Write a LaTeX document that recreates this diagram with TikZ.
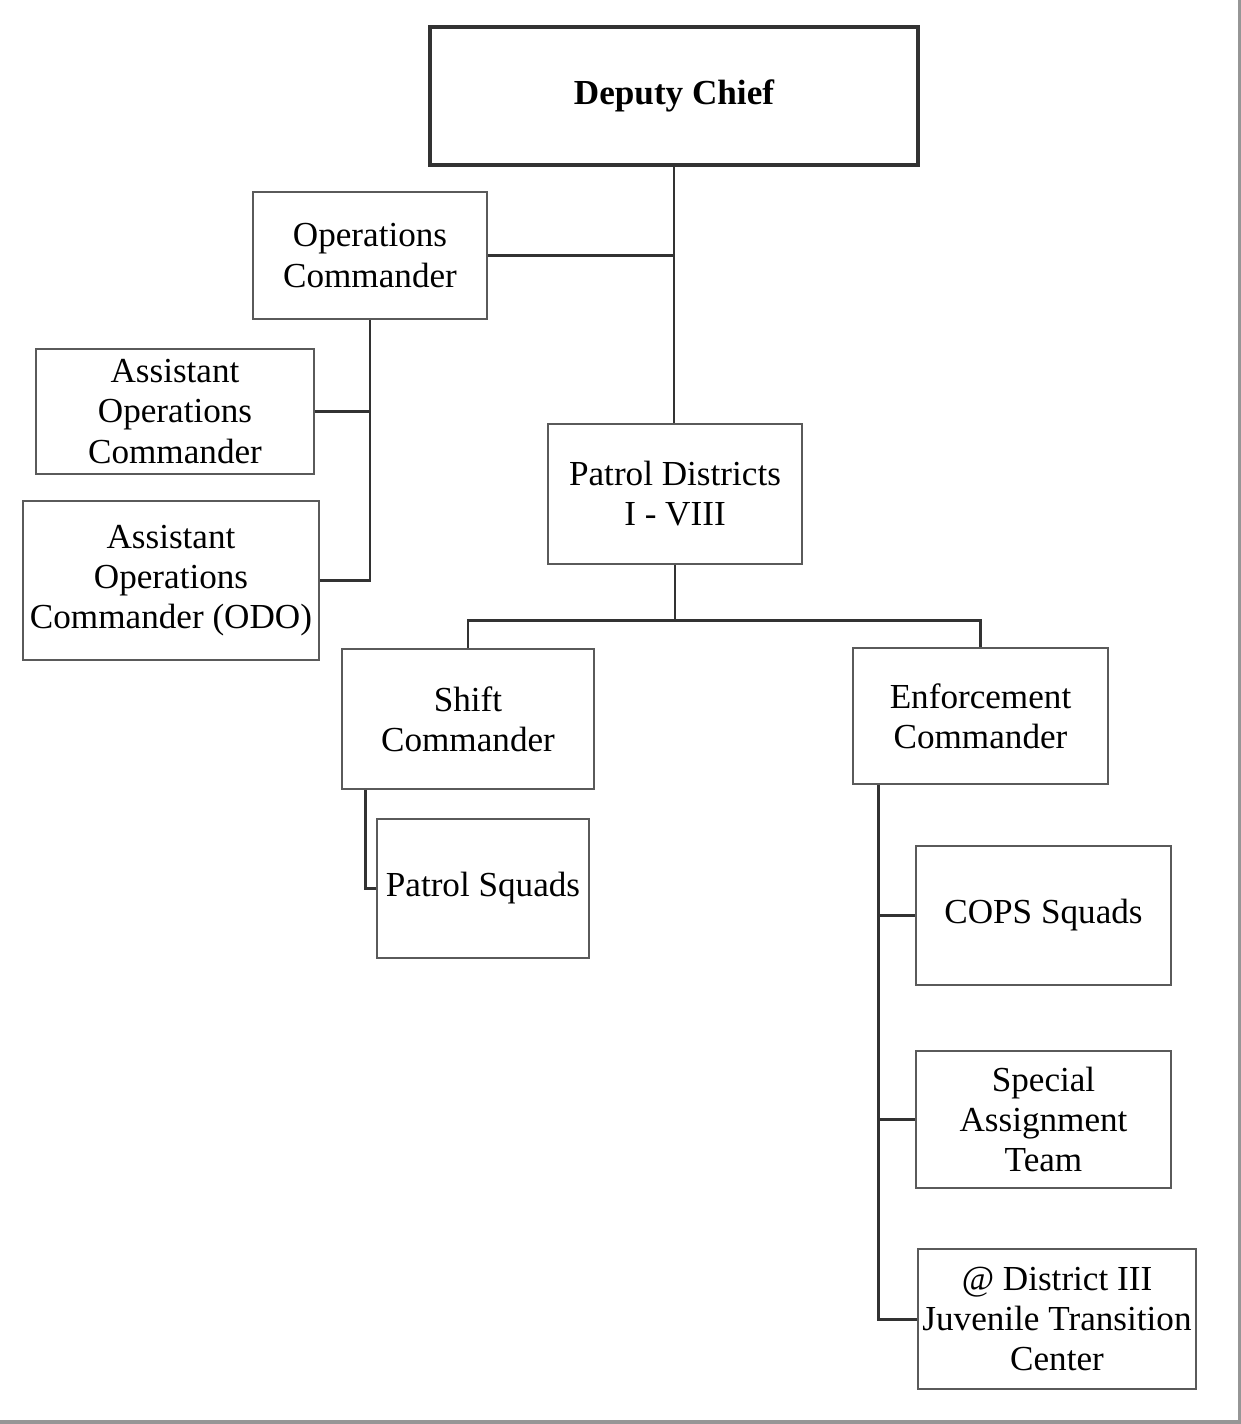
\documentclass[tikz,border=0pt]{standalone}
\usepackage{fontspec}
\setmainfont{Liberation Serif}
\usepackage{tikz}
\usetikzlibrary{positioning, calc}
\definecolor{boxgray}{RGB}{90,90,90}
\definecolor{linkgray}{RGB}{50,50,50}
\definecolor{framegray}{RGB}{150,150,150}

\begin{document}
\begin{tikzpicture}[
    unit/.style={
        rectangle, draw=boxgray, line width=1.1pt, fill=white,
        inner sep=0pt, align=center,
        font=\fontsize{20}{22.8}\selectfont
    },
    chiefbox/.style={
        unit, draw=linkgray, line width=2pt,
        font=\fontsize{20}{22.8}\selectfont\bfseries
    },
    link/.style={draw=linkgray, line width=1.7pt}
]
\useasboundingbox (0,0) rectangle (24.82,-28.48);
\fill[framegray] (24.76,0) rectangle (24.82,-28.48);
\fill[framegray] (0,-28.40) rectangle (24.82,-28.48);

% --- boxes ---
\node[chiefbox, minimum width=9.76cm, minimum height=2.76cm] (chief)   at (13.48,-1.92)  {Deputy Chief};
\node[unit, minimum width=4.68cm, minimum height=2.54cm]     (opscmd)  at (7.40,-5.11)   {Operations\\Commander};
\node[unit, minimum width=5.56cm, minimum height=2.50cm]     (asstops) at (3.50,-8.23)   {Assistant\\Operations\\Commander};
\node[unit, minimum width=5.92cm, minimum height=3.18cm]     (asstodo) at (3.42,-11.61)  {Assistant\\Operations\\Commander (ODO)};
\node[unit, minimum width=5.08cm, minimum height=2.80cm]     (patrol)  at (13.50,-9.88)  {Patrol Districts\\I - VIII};

\node[unit, minimum width=5.04cm, minimum height=2.80cm]     (shift)   at (9.36,-14.38)  {Shift\\Commander};
\node[unit, minimum width=5.10cm, minimum height=2.72cm]     (enforce) at (19.61,-14.32) {Enforcement\\Commander};
\node[unit, minimum width=4.24cm, minimum height=2.78cm]     (squads)  at (9.66,-17.77)  {Patrol Squads};

\node[unit, minimum width=5.10cm, minimum height=2.78cm]     (cops)    at (20.87,-18.31) {COPS Squads};
\node[unit, minimum width=5.10cm, minimum height=2.74cm]     (sat)     at (20.87,-22.39) {Special\\Assignment\\Team};
\node[unit, minimum width=5.56cm, minimum height=2.80cm]     (jtc)     at (21.14,-26.38) {@ District III\\Juvenile Transition\\Center};

% --- helper points for the elbows ---
\coordinate (pbus)  at ($(patrol.south)+(0,-1.12)$);
\coordinate (sdrop) at ($(shift.south west)+(0.48,0)$);
\coordinate (edrop) at ($(enforce.south west)+(0.52,0)$);

% --- connectors ---
\draw[link] (chief.south) -- (chief.south |- patrol.north);
\draw[link] (opscmd.east) -- (chief.south |- opscmd.east);
\draw[link] (opscmd.south) |- (asstodo.east);
\draw[link] (asstops.east) -- (opscmd.south |- asstops.east);

\draw[link] (patrol.south) -- (pbus);
\draw[link] (shift.north) |- (pbus) -| (enforce.north);

\draw[link] (sdrop) |- (squads.west);

\draw[link] (edrop) |- (jtc.west);
\draw[link] (edrop |- cops.west) -- (cops.west);
\draw[link] (edrop |- sat.west) -- (sat.west);

\end{tikzpicture}
\end{document}
